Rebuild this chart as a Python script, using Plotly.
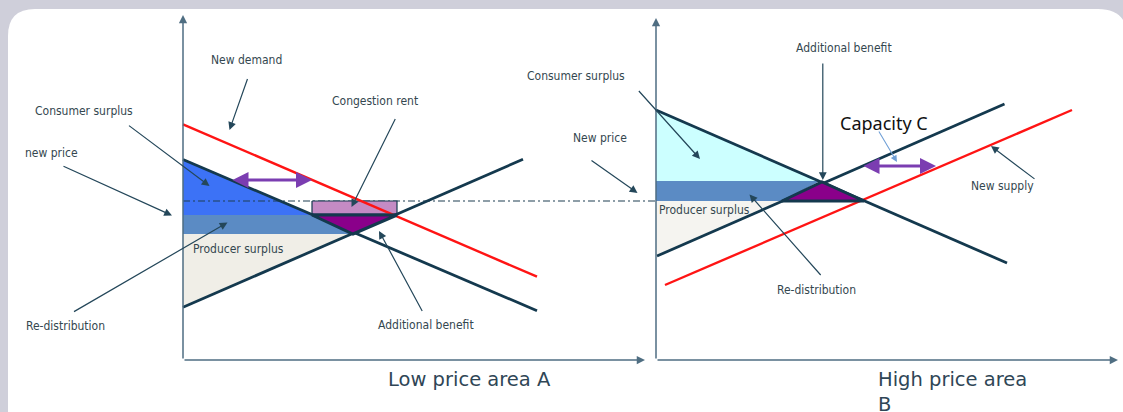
import plotly.graph_objects as go

# ---------------- data (chart units: x to the right, y downward) ----------------
# axes of the two panels
axis_x = [183, 656]          # vertical axis positions (A, B)
axis_top = [15, 18]          # tip of vertical axes
axis_right = [645, 1118]     # tip of horizontal axes
axis_base = 360

# Panel A: low price area
demandA_x, demandA_y = [183, 537], [159.5, 310.7]
newdemandA_x, newdemandA_y = [183, 537], [124.3, 276.7]
supplyA_x, supplyA_y = [183, 523], [307.3, 159.3]
consumerA_x, consumerA_y = [183, 312, 183], [159.5, 215, 215]
redistA_x, redistA_y = [183, 312, 353, 183], [215, 215, 234, 234]
producerA_x, producerA_y = [183, 353, 183], [234, 234, 307.3]
congestion_x, congestion_y = [312, 397, 397, 312], [201, 201, 214, 214]
benefitA_x, benefitA_y = [312, 397, 353], [215, 215, 234]
capA_x, capA_y = [231, 312], [180, 180]

# common new price level
newprice_x, newprice_y = [183, 656], [201, 201]

# Panel B: high price area
demandB_x, demandB_y = [656, 1007], [110, 263]
supplyB_x, supplyB_y = [657, 1004.5], [256, 104]
newsupplyB_x, newsupplyB_y = [665, 1072], [285, 110]
consumerB_x, consumerB_y = [656, 819, 656], [110, 181, 181]
redistB_x, redistB_y = [656, 820, 782, 656], [181, 181, 201, 201]
producerB_x, producerB_y = [656, 782, 656], [201, 201, 256]
benefitB_x, benefitB_y = [782, 864, 822], [201, 201, 182]
capB_x, capB_y = [862, 936], [166, 166]

# labels: text, x, y
labels = [
    ("New demand", 246.5, 59.5),
    ("Consumer surplus", 84, 111),
    ("new price", 51.5, 152.5),
    ("Congestion rent", 375, 101),
    ("Producer surplus", 238, 249),
    ("Re-distribution", 65.5, 326),
    ("Additional benefit", 426, 325),
    ("Consumer surplus", 575.5, 76),
    ("New price", 599.5, 138),
    ("Additional benefit", 843.5, 48),
    ("Producer surplus", 704, 209.5),
    ("Re-distribution", 816.5, 290),
    ("New supply", 1002.5, 186),
]
# pointer arrows: tail x, tail y, head x, head y
pointers = [
    (248, 77.5, 229.5, 130),
    (127.5, 124.5, 209.5, 186),
    (62, 165.5, 172, 215.5),
    (396, 117.5, 351.5, 207),
    (72.5, 312.5, 227.5, 222.5),
    (423, 312.5, 379, 231),
    (637.5, 89.5, 700, 159),
    (590, 159.5, 637.5, 193),
    (822.8, 62, 822.8, 180),
    (1036, 180, 991, 146),
    (822, 276.5, 749.5, 194.5),
]
capacity_pointer = (878, 130, 897, 162)

# ---------------- style ----------------
DARK = "#14394e"
AXIS = "#4f6e82"
TXT = "#34474f"
PTR = "#24475a"
RED = "#ff1414"
PURPLE = "#8a008a"
ARROW_PURPLE = "#7b3db1"
FONT = "DejaVu Sans Condensed, DejaVu Sans, sans-serif"

fig = go.Figure()


def poly(xs, ys, fill, lw=0, lc=None):
    fig.add_trace(go.Scatter(
        x=xs + xs[:1], y=ys + ys[:1], mode="lines", fill="toself",
        fillcolor=fill, line=dict(width=lw, color=lc or fill),
        hoverinfo="skip", showlegend=False))


def line(xs, ys, color, width, dash="solid"):
    fig.add_trace(go.Scatter(
        x=xs, y=ys, mode="lines", line=dict(color=color, width=width, dash=dash),
        hoverinfo="skip", showlegend=False))


# areas
poly(consumerA_x, consumerA_y, "#3c72f6")
poly(redistA_x, redistA_y, "#5b8bc4")
poly(producerA_x, producerA_y, "#f0eee7")
poly(consumerB_x, consumerB_y, "#ccffff")
poly(redistB_x, redistB_y, "#5b8bc4")
poly(producerB_x, producerB_y, "#f5f4f0")

# new price level
line(newprice_x, newprice_y, "#1e3e52", 1.2, "7px,3px,2px,3px")

# congestion rent box
poly(congestion_x, congestion_y, "#c48bc4", 1.2, DARK)

# curves
line(newdemandA_x, newdemandA_y, RED, 2.4)
line(demandA_x, demandA_y, DARK, 2.8)
line(supplyA_x, supplyA_y, DARK, 2.8)
line(newsupplyB_x, newsupplyB_y, RED, 2.4)
line(demandB_x, demandB_y, DARK, 2.8)
line(supplyB_x, supplyB_y, DARK, 2.8)

# additional benefit triangles
poly(benefitA_x, benefitA_y, PURPLE, 3, DARK)
poly(benefitB_x, benefitB_y, PURPLE, 3, DARK)

annotations = []

# axes with arrows
for ax0, top, right in zip(axis_x, axis_top, axis_right):
    annotations.append(dict(x=ax0, y=top, ax=ax0, ay=axis_base, xref="x", yref="y",
                            axref="x", ayref="y", text="", showarrow=True,
                            arrowhead=2, arrowsize=1.1, arrowwidth=1.5,
                            arrowcolor=AXIS, standoff=0))
    annotations.append(dict(x=right, y=axis_base, ax=ax0, ay=axis_base, xref="x", yref="y",
                            axref="x", ayref="y", text="", showarrow=True,
                            arrowhead=2, arrowsize=1.1, arrowwidth=1.5,
                            arrowcolor=AXIS, standoff=0))

# capacity double arrows
for xs, ys in [(capA_x, capA_y), (capB_x, capB_y)]:
    annotations.append(dict(x=xs[1], y=ys[1], ax=xs[0], ay=ys[0], xref="x", yref="y",
                            axref="x", ayref="y", text="", showarrow=True,
                            arrowhead=2, arrowside="end+start", arrowsize=1.0,
                            arrowwidth=3.2, arrowcolor=ARROW_PURPLE, standoff=0,
                            startstandoff=0))

# pointers
for tx, ty, hx, hy in pointers:
    annotations.append(dict(x=hx, y=hy, ax=tx, ay=ty, xref="x", yref="y",
                            axref="x", ayref="y", text="", showarrow=True,
                            arrowhead=2, arrowsize=1.3, arrowwidth=1.2,
                            arrowcolor=PTR, standoff=0))
tx, ty, hx, hy = capacity_pointer
annotations.append(dict(x=hx, y=hy, ax=tx, ay=ty, xref="x", yref="y",
                        axref="x", ayref="y", text="", showarrow=True,
                        arrowhead=2, arrowsize=1.2, arrowwidth=1.1,
                        arrowcolor="#6f9fd6", standoff=0))

# labels
for t, x, y in labels:
    annotations.append(dict(x=x, y=y, xref="x", yref="y", text=t, showarrow=False,
                            xanchor="center", yanchor="middle",
                            font=dict(family=FONT, size=12, color=TXT)))

annotations.append(dict(x=884, y=123, xref="x", yref="y", text="Capacity C",
                        showarrow=False, xanchor="center", yanchor="middle",
                        font=dict(family="Noto Sans, sans-serif", size=18, color="#111111")))
annotations.append(dict(x=469, y=379, xref="x", yref="y", text="Low price area A",
                        showarrow=False, xanchor="center", yanchor="middle",
                        font=dict(family="DejaVu Sans, sans-serif", size=19.5, color="#2f4656")))
annotations.append(dict(x=876, y=366, xref="x", yref="y", text="High price area<br>B",
                        showarrow=False, xanchor="left", yanchor="top", align="left",
                        font=dict(family="DejaVu Sans, sans-serif", size=19.5, color="#2f4656")))

# white rounded card
card = "M 8,36 Q 8,9 35,9 L 1098,9 Q 1128,9 1128,40 L 1128,430 L 8,430 Z"

fig.update_layout(
    width=1123, height=412, autosize=False,
    margin=dict(l=0, r=0, t=0, b=0),
    paper_bgcolor="#cfcfda", plot_bgcolor="rgba(0,0,0,0)",
    xaxis=dict(range=[0, 1123], visible=False, fixedrange=True),
    yaxis=dict(range=[412, 0], visible=False, fixedrange=True),
    shapes=[dict(type="path", path=card, xref="x", yref="y",
                 fillcolor="white", line=dict(width=0), layer="below")],
    annotations=annotations,
    hovermode=False,
    showlegend=False,
)

fig.write_html(
    "out.html",
    config={"displayModeBar": False},
    post_script="document.body.style.margin='0';document.body.style.overflow='hidden';"
                "document.body.style.background='#cfcfda';",
)
